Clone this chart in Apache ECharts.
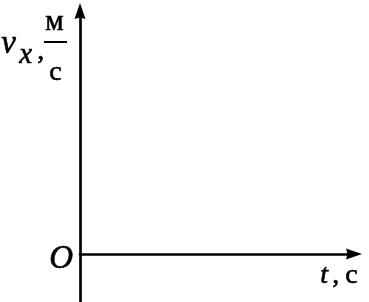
<!DOCTYPE html>
<html><head><meta charset="utf-8">
<script src="https://cdn.jsdelivr.net/npm/echarts@6/dist/echarts.min.js"></script>
<style>html,body{margin:0;padding:0;background:#fff}#c{width:369px;height:302px}</style>
</head><body><div id="c"></div>
<script>
// Axis ranges (no data series in this blank graph template)
const xRange = [0, 10];
const yRange = [-48, 243];
const yLabelParts = ['v', 'x', ',', 'м', 'с'];
const xLabel = ['t', ',', 'с'];
const originLabel = 'O';

const chart = echarts.init(document.getElementById('c'), null, {renderer: 'canvas'});
const lineStyle = {color: '#000', width: 2.7};
const arrow = 'path://M5.5,0 L11,16 L5.5,14.5 L0,16 Z';
const serif = '"Liberation Serif", "DejaVu Serif", serif';
function txt(x, y, s, font) {
  return {type: 'text', left: x, top: y, style: {text: s, font: font + ' ' + serif, fill: '#000', stroke: '#000', lineWidth: 0.6}};
}
chart.setOption({
  animation: false,
  grid: {left: 80, right: 15, top: 11, bottom: 0},
  xAxis: {type: 'value', min: xRange[0], max: xRange[1],
    axisLine: {onZero: true, lineStyle, symbol: ['none', arrow], symbolSize: [11, 16]},
    axisTick: {show: false}, axisLabel: {show: false}, splitLine: {show: false}},
  yAxis: {type: 'value', min: yRange[0], max: yRange[1],
    axisLine: {onZero: true, lineStyle, symbol: ['none', arrow], symbolSize: [11, 16]},
    axisTick: {show: false}, axisLabel: {show: false}, splitLine: {show: false}},
  series: [],
  graphic: [
    txt(1, 28, yLabelParts[0], 'italic 33px'),
    txt(19, 41, yLabelParts[1], 'italic 29px'),
    txt(37, 37, yLabelParts[2], '28px'),
    txt(45, 8, yLabelParts[3], '29px'),
    {type: 'rect', shape: {x: 44, y: 41, width: 23, height: 2}, style: {fill: '#000'}},
    txt(49, 58, yLabelParts[4], '28px'),
    txt(49, 243, originLabel, 'italic 33px'),
    txt(320, 261, xLabel[0], 'italic 28px'),
    txt(332, 261, xLabel[1], '28px'),
    txt(345, 261, xLabel[2], '28px')
  ]
});
</script></body></html>
